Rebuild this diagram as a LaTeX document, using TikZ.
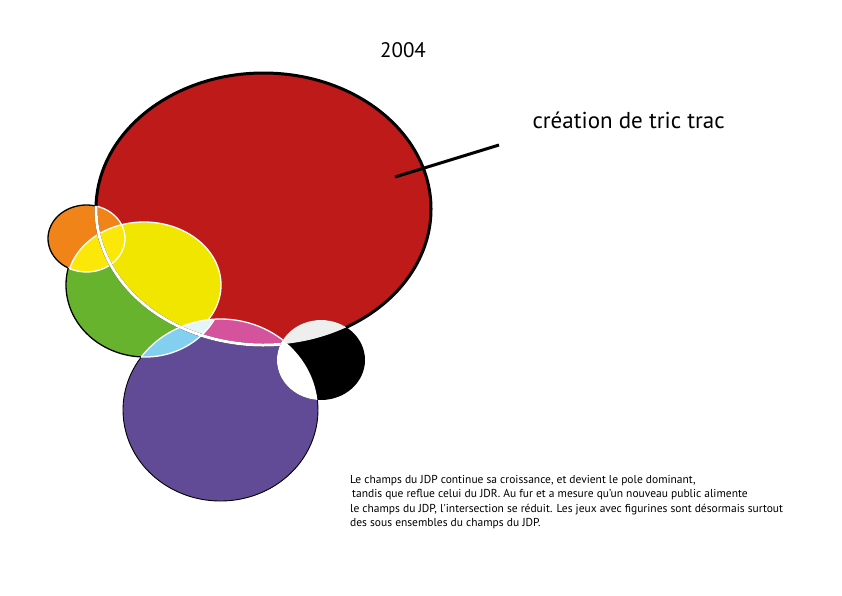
\documentclass[tikz,border=0pt]{standalone}
\usepackage{fontspec}
\setmainfont{PT Sans}
\definecolor{rougeC}{RGB}{190,26,25}
\definecolor{orangeC}{RGB}{240,132,25}
\definecolor{jauneC}{RGB}{240,230,0}
\definecolor{jauneV}{RGB}{252,232,8}
\definecolor{vertC}{RGB}{104,179,46}
\definecolor{violetC}{RGB}{97,75,151}
\definecolor{cyanC}{RGB}{130,207,240}
\definecolor{roseC}{RGB}{213,82,156}
\definecolor{clairC}{RGB}{228,244,249}
\definecolor{grisC}{RGB}{238,238,238}
\tikzset{
  bord/.style={line width=3pt},
  fin/.style={white,line width=1.3pt},
  contour/.style={black,line width=1.3pt}
}
\begin{document}
\begin{tikzpicture}[x=1pt,y=-1pt]
\useasboundingbox (0,0) rectangle (842,595);
\coordinate (R) at (263.5,209);
\coordinate (O) at (86.5,238.5);
\coordinate (Y) at (144,285);
\coordinate (G) at (145,285);
\coordinate (P) at (220.5,410);
\coordinate (B) at (321,360);
\def\cR{(R) ellipse [x radius=167.5,y radius=136]}
\def\cO{(O) ellipse [x radius=38.5,y radius=33.5]}
\def\cY{(Y) ellipse [x radius=77,y radius=63]}
\def\cG{(G) ellipse [x radius=79,y radius=72]}
\def\cP{(P) ellipse [x radius=97.5,y radius=91]}
\def\cB{(B) ellipse [x radius=44,y radius=40]}
\fill[vertC] \cG;
\fill[rougeC] \cR;
\begin{scope} \clip \cR; \fill[jauneC] \cY; \end{scope}
\fill[orangeC] \cO;
\begin{scope} \clip \cO; \fill[jauneV] \cY; \end{scope}
\begin{scope} \clip \cR \cO; \draw[fin] \cY; \end{scope}
\draw[contour] (O) ++(118.6:38.5 and 33.5) arc[start angle=118.6,end angle=284.3,x radius=38.5,y radius=33.5];
\draw[fin] (O) ++(-75.7:38.5 and 33.5) arc[start angle=-75.7,end angle=118.6,x radius=38.5,y radius=33.5];
\fill[violetC] \cP;
\begin{scope} \clip \cP; \fill[cyanC] \cG; \fill[roseC] \cR; \clip \cR; \fill[clairC] \cG; \end{scope}
\draw[bord] \cR;
\draw[bord,white] (R) ++(181.3:167.5 and 136) arc[start angle=181.3,end angle=80,x radius=167.5,y radius=136];
\draw[contour] (G) ++(92.9:79 and 72) arc[start angle=92.9,end angle=193.6,x radius=79,y radius=72];
\begin{scope} \clip \cP; \draw[fin] \cG; \end{scope}
\draw[black,line width=0.9pt] (P) ++(215.4:97.5 and 91) arc[start angle=215.4,end angle=-20,x radius=97.5,y radius=91];
\draw[fin] (P) ++(215.4:97.5 and 91) arc[start angle=215.4,end angle=320,x radius=97.5,y radius=91];
\fill[black] \cB;
\begin{scope} \clip \cB; \fill[grisC] \cR; \fill[white] \cP; \end{scope}
\coordinate (trait1) at (395,177);
\coordinate (trait2) at (499,145);
\draw[bord] (trait1) -- (trait2);
\node[font=\fontsize{21}{25}\selectfont] (annee) at (403,50) {2004};
\node[anchor=base west,font=\fontsize{23}{27}\selectfont] (titre) at (529,128) {création de tric trac};
\node[anchor=north west,align=left,inner sep=0pt,font=\fontsize{11.5}{14.4}\selectfont] (texte) at (350,475) {Le champs du JDP continue sa croissance, et devient le pole dominant,\\
\hspace{2pt}tandis que reflue celui du JDR. Au fur et a mesure qu’un nouveau public alimente\\
le champs du JDP, l\textquotesingle intersection se réduit. Les jeux avec figurines sont désormais surtout\\
des sous ensembles du champs du JDP.};
\end{tikzpicture}
\end{document}
